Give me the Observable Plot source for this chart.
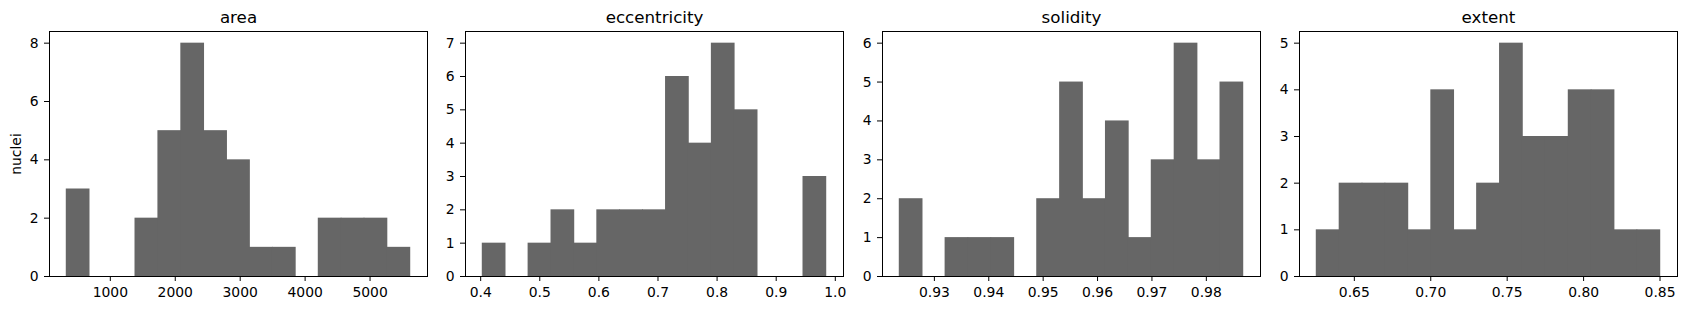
<!DOCTYPE html>
<html>
<head>
<meta charset="utf-8">
<script src="https://cdn.jsdelivr.net/npm/d3@7"></script>
<script src="https://cdn.jsdelivr.net/npm/@observablehq/plot@0.6"></script>
<style>
  html, body { margin: 0; padding: 0; background: white; }
  #row { display: flex; width: 1686px; height: 310px; }
  #row svg { display: block; }
</style>
</head>
<body>
<div id="row"></div>
<script>
// ---- data (15 bins per histogram) ----
const nBins = 15;
const titles = ["area", "eccentricity", "solidity", "extent"];
const yLabel = "nuclei";

const areaRange = [328, 5620];
const areaCounts = [3, 0, 0, 2, 5, 8, 5, 4, 1, 1, 0, 2, 2, 2, 1];
const areaTicks = [1000, 2000, 3000, 4000, 5000];
const areaYTicks = [0, 2, 4, 6, 8];

const eccRange = [0.4034, 0.9848];
const eccCounts = [1, 0, 1, 2, 1, 2, 2, 2, 6, 4, 7, 5, 0, 0, 3];
const eccTicks = [0.4, 0.5, 0.6, 0.7, 0.8, 0.9, 1.0];
const eccYTicks = [0, 1, 2, 3, 4, 5, 6, 7];

const solRange = [0.92362, 0.9868];
const solCounts = [2, 0, 1, 1, 1, 0, 2, 5, 2, 4, 1, 3, 6, 3, 5];
const solTicks = [0.93, 0.94, 0.95, 0.96, 0.97, 0.98];
const solYTicks = [0, 1, 2, 3, 4, 5, 6];

const extRange = [0.62536, 0.8502];
const extCounts = [1, 2, 2, 2, 1, 4, 1, 2, 5, 3, 3, 4, 4, 1, 1];
const extTicks = [0.65, 0.70, 0.75, 0.80, 0.85];
const extYTicks = [0, 1, 2, 3, 4, 5];

// ---- layout ----
const panels = [
  {title: titles[0], range: areaRange, counts: areaCounts, ticks: areaTicks, yTicks: areaYTicks, fmt: d3.format("d"),
   width: 440, ml: 49, mr: 13, ylabel: yLabel},
  {title: titles[1], range: eccRange, counts: eccCounts, ticks: eccTicks, yTicks: eccYTicks, fmt: d3.format(".1f"),
   width: 417, ml: 25, mr: 14, ylabel: null},
  {title: titles[2], range: solRange, counts: solCounts, ticks: solTicks, yTicks: solYTicks, fmt: d3.format(".2f"),
   width: 417, ml: 25, mr: 14, ylabel: null},
  {title: titles[3], range: extRange, counts: extCounts, ticks: extTicks, yTicks: extYTicks, fmt: d3.format(".2f"),
   width: 412, ml: 25, mr: 9, ylabel: null}
];

const row = document.getElementById("row");

for (const p of panels) {
  const [lo, hi] = p.range;
  const span = hi - lo;
  const bw = span / nBins;
  const bins = p.counts.map((c, i) => ({x1: lo + i * bw, x2: lo + (i + 1) * bw, count: c}));
  const ymax = d3.max(p.counts);

  const chart = Plot.plot({
    width: p.width,
    height: 310,
    marginTop: 31,
    marginBottom: 34,
    marginLeft: p.ml,
    marginRight: p.mr,
    style: {fontFamily: "'DejaVu Sans', sans-serif", fontSize: "13.9px", color: "black", background: "white", overflow: "visible"},
    x: {domain: [lo - 0.05 * span, hi + 0.05 * span], ticks: p.ticks, tickFormat: p.fmt, tickSize: 5, tickPadding: 5.5, label: null},
    y: {domain: [0, ymax * 1.05], ticks: p.yTicks, tickFormat: d3.format("d"), tickSize: 5, tickPadding: 6,
        label: p.ylabel, labelAnchor: "center", labelArrow: "none", labelOffset: 38},
    marks: [
      Plot.rectY(bins.filter(b => b.count > 0), {x1: "x1", x2: "x2", y1: 0, y2: "count", fill: "#666666",
        insetLeft: -0.4, insetRight: -0.4}),
      Plot.frame({stroke: "black", strokeWidth: 1}),
      Plot.text([p.title], {text: d => d, frameAnchor: "top", dy: -8.5, lineAnchor: "bottom", fontSize: 16.7, fill: "black"})
    ]
  });
  row.appendChild(chart);
}
</script>
</body>
</html>
